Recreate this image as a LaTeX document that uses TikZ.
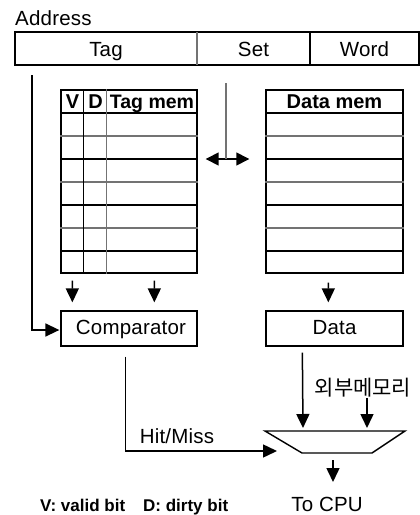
\documentclass[tikz,border=0pt]{standalone}
\usepackage{fontspec}
\setmainfont{Liberation Sans}
\newfontfamily\krfont{Noto Sans CJK KR}
\usetikzlibrary{arrows.meta,calc}
\begin{document}
\begin{tikzpicture}[x=1pt,y=-1pt,
  ln/.style={line width=1.4pt},
  gl/.style={line width=1.5pt, black!55},
  arr/.style={line width=1.5pt,-{Triangle[length=14pt,width=13pt]}},
  darr/.style={line width=1.5pt,{Triangle[length=13pt,width=13pt]}-{Triangle[length=13pt,width=13pt]}},
  cell/.style={rectangle,inner sep=0pt,minimum height=33pt},
  box/.style={draw,line width=1.3pt,rectangle,inner sep=0pt,minimum height=35pt},
  lbl/.style={font=\fontsize{20.5}{22}\selectfont\addfontfeatures{LetterSpace=1}, inner sep=0pt},
  hdr/.style={font=\fontsize{20}{22}\selectfont\bfseries, inner sep=0pt, anchor=base},
  tbl/.style={draw,line width=1.4pt,rectangle,inner sep=0pt}]
\useasboundingbox (0,0) rectangle (420,515);

% Address
\node[lbl,anchor=base west] (addrlbl) at (15,25) {Address};
\coordinate (aNW) at (15,32);
\coordinate (aSE) at (419,65);
\draw[ln] (aNW) rectangle (aSE);
\node[lbl,anchor=base] (tag) at (106,56) {Tag};
\node[lbl,anchor=base] (set) at (253.5,56) {Set};
\node[lbl,anchor=base] (word) at (364.5,56) {Word};
\coordinate (d1t) at (197,32);
\coordinate (d1b) at (197,65);
\coordinate (d2t) at (310,32);
\coordinate (d2b) at (310,65);
\draw[gl] (d1t) -- (d1b);
\draw[ln] (d2t) -- (d2b);

% Tag memory table
\node[tbl,minimum width=136pt,minimum height=183pt] (tagmem) at (129,181.5) {};
\foreach \yy/\st in {113/ln,136/gl,159/ln,182/gl,205/ln,228/gl,251/ln}
  \draw[\st] ($(tagmem.west|-0,\yy)$) -- ($(tagmem.east|-0,\yy)$);
\draw[ln] ($(tagmem.north west)+(23,0)$) -- ($(tagmem.south west)+(23,0)$);
\draw[gl] ($(tagmem.north west)+(46,0)$) -- ($(tagmem.south west)+(46,0)$);
\node[hdr] (vh) at (72.5,108) {V};
\node[hdr] (dh) at (95.5,108) {D};
\node[hdr,font=\fontsize{19.5}{21}\selectfont\bfseries] (tmh) at (152,108) {Tag mem};

% Data memory table
\node[tbl,minimum width=137pt,minimum height=183pt] (datamem) at (334.5,181.5) {};
\foreach \yy/\st in {113/ln,136/gl,159/ln,182/gl,205/ln,228/gl,251/ln}
  \draw[\st] ($(datamem.west|-0,\yy)$) -- ($(datamem.east|-0,\yy)$);
\node[hdr] (dmh) at (334.5,108) {Data mem};

% Set line and double arrow
\coordinate (dl) at ($(tagmem.east|-0,159)+(8,0)$);
\coordinate (dr) at ($(datamem.west|-0,159)+(-16,0)$);
\coordinate (sj) at (226,159);
\coordinate (ss) at (226,83);
\draw[darr] (dl) -- (dr);
\draw[gl] (ss) -- (sj);

% Comparator and Data
\node[box,minimum width=136pt] (comp) at (129,328.5) {};
\node[lbl,anchor=base] (comptxt) at (131,334) {Comparator};
\node[box,minimum width=137pt] (data) at (334.5,328.5) {};
\node[lbl,anchor=base] (datatxt) at (334.5,334) {Data};

\draw[arr] ($(tagmem.south west)+(12,7)$) -- ($(comp.north west)+(12,-8)$);
\draw[arr] ($(tagmem.south west)+(94,7)$) -- ($(comp.north west)+(94,-8)$);
\draw[arr] ($(datamem.south west)+(63,9)$) -- ($(data.north west)+(63,-8)$);
\coordinate (tagdrop) at (32,75);
\draw[arr] (tagdrop) |- ($(comp.west)+(-1,1.5)$);

% Multiplexer
\coordinate (mtl) at (265,431);
\coordinate (mtr) at (405,431);
\coordinate (mbr) at (372,453);
\coordinate (mbl) at (302,453);
\draw[ln] (mtl) -- (mtr) -- (mbr) -- (mbl) -- cycle;

\draw[arr] ($(comp.south west)+(65,10)$) |- ($(mtl)+(12,20)$);
\node[lbl,anchor=base] (hm) at (177,443) {Hit/Miss};
\draw[arr] ($(data.south west)+(37,6)$) -- ($(mtl)+(38,-3)$);
\node[inner sep=0pt,font=\krfont\fontsize{21}{23}\selectfont] (ext) at (363,388) {외부메모리};
\coordinate (exts) at (367,398);
\draw[arr] (exts) -- ($(mtl)+(102,-3)$);
\coordinate (outs) at ($(mbl)+(31,7)$);
\draw[arr] (outs) -- ($(mbl)+(31,29)$);
\node[lbl,anchor=base] (cpu) at (327,511) {To CPU};

% Legend
\node[font=\fontsize{17}{19}\selectfont\bfseries,inner sep=0pt,anchor=base west] (leg1) at (40,511) {V: valid bit};
\node[font=\fontsize{17}{19}\selectfont\bfseries,inner sep=0pt,anchor=base west] (leg2) at (143,511) {D: dirty bit};
\end{tikzpicture}
\end{document}
